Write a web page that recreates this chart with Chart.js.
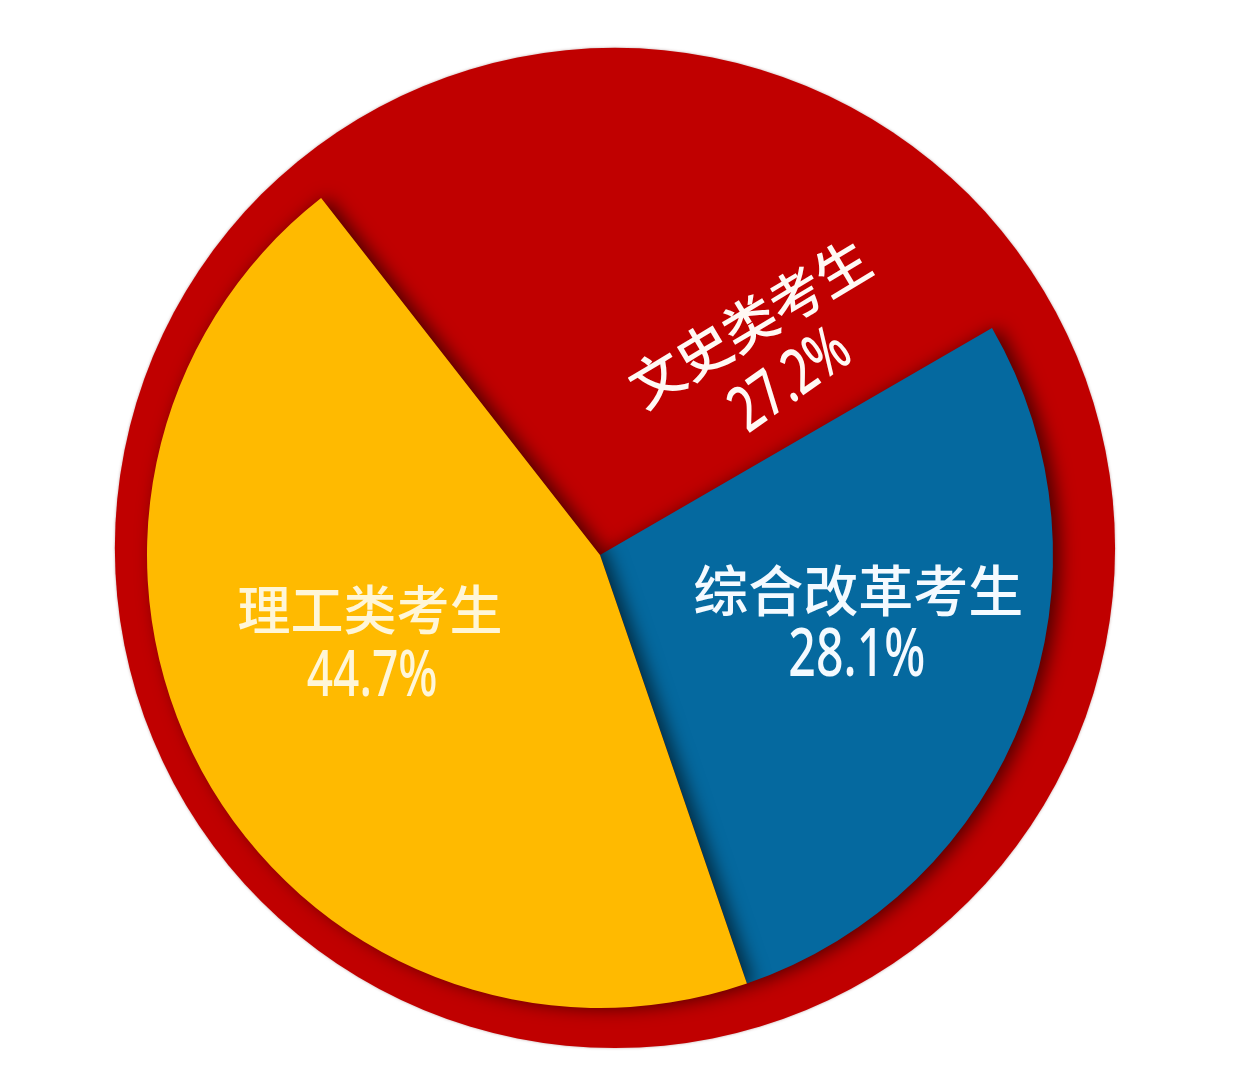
<!DOCTYPE html>
<html>
<head>
<meta charset="utf-8">
<script src="https://cdn.jsdelivr.net/npm/chart.js@4"></script>
<style>
  html, body { margin: 0; padding: 0; background: #ffffff; }
  #wrap { width: 1242px; height: 1070px; }
</style>
</head>
<body>
<div id="wrap"><canvas id="c" width="1242" height="1070"></canvas></div>
<script>
// ---- data ----
const categories = ['文史类考生', '综合改革考生', '理工类考生'];
const shares = [27.2, 28.1, 44.7];
const shareLabels = ['27.2%', '28.1%', '44.7%'];
const sliceColors = ['#C00000', '#05699F', '#FFBA00'];

// label layout (relative to pie centre, in units of pie radius)
const labelStyle = [
  { dx: 0.330, dy: -0.512, ndx: 0.422, ndy: -0.383, rot: -31, nrot: -35, color: '#FFF9F4', font: 54, nfont: 64 },
  { dx: 0.570, dy: 0.078, ndx: 0.567, ndy: 0.226, rot: 0, nrot: 0, color: '#F4FAFF', font: 55, nfont: 67 },
  { dx: -0.508, dy: 0.120, ndx: -0.503, ndy: 0.272, rot: 0, nrot: 0, color: '#FFF6D8', font: 53, nfont: 64 }
];

const backdropPlugin = {
  id: 'backdrop',
  beforeDatasetsDraw(chart) {
    const arc = chart.getDatasetMeta(0).data[0];
    if (!arc) return;
    const r = arc.outerRadius, cx = arc.x, cy = arc.y;
    const ctx = chart.ctx;
    ctx.save();
    ctx.beginPath();
    ctx.arc(cx + 0.033 * r, cy - 0.0155 * r, 1.104 * r, 0, Math.PI * 2);
    ctx.fillStyle = '#C00000';
    ctx.shadowColor = 'rgba(90,0,0,0.35)';
    ctx.shadowBlur = 3;
    ctx.fill();
    ctx.restore();
  },
  beforeDatasetDraw(chart, args) {
    const ctx = chart.ctx;
    args.meta.data.forEach((el, i) => {
      ctx.save();
      if (i > 0) {
        ctx.shadowColor = 'rgba(0,0,0,0.6)';
        ctx.shadowBlur = 18;
        ctx.shadowOffsetX = 7;
        ctx.shadowOffsetY = 0;
      }
      el.draw(ctx, chart.chartArea);
      ctx.restore();
    });
    return false;
  },
  afterDraw(chart) {
    const meta = chart.getDatasetMeta(0);
    const arc0 = meta.data[0];
    if (!arc0) return;
    const r = arc0.outerRadius, cx = arc0.x, cy = arc0.y;
    const ctx = chart.ctx;
    categories.forEach((name, i) => {
      const s = labelStyle[i];
      ctx.save();
      ctx.fillStyle = s.color;
      ctx.textAlign = 'center';
      ctx.textBaseline = 'middle';
      // category name
      ctx.save();
      ctx.translate(cx + s.dx * r, cy + s.dy * r);
      ctx.rotate(s.rot * Math.PI / 180);
      ctx.font = '500 ' + s.font + 'px "Noto Sans CJK SC", "Noto Sans", sans-serif';
      ctx.fillText(name, 0, 0);
      ctx.restore();
      // share value
      ctx.save();
      ctx.translate(cx + s.ndx * r, cy + s.ndy * r);
      ctx.rotate(s.nrot * Math.PI / 180);
      ctx.scale(0.72, 1);
      ctx.font = '500 ' + s.nfont + 'px "Noto Sans", "Noto Sans CJK SC", sans-serif';
      ctx.fillText(shareLabels[i], 0, 0);
      ctx.restore();
      ctx.restore();
    });
  }
};

new Chart(document.getElementById('c'), {
  type: 'pie',
  data: {
    labels: categories,
    datasets: [{
      data: shares,
      backgroundColor: sliceColors,
      borderWidth: 0,
      hoverOffset: 0
    }]
  },
  options: {
    responsive: false,
    devicePixelRatio: 1,
    animation: false,
    rotation: -38,
    layout: { padding: { top: 102, bottom: 62, left: 147, right: 189 } },
    plugins: {
      legend: { display: false },
      tooltip: { enabled: false }
    },
    events: []
  },
  plugins: [backdropPlugin]
});
</script>
</body>
</html>
